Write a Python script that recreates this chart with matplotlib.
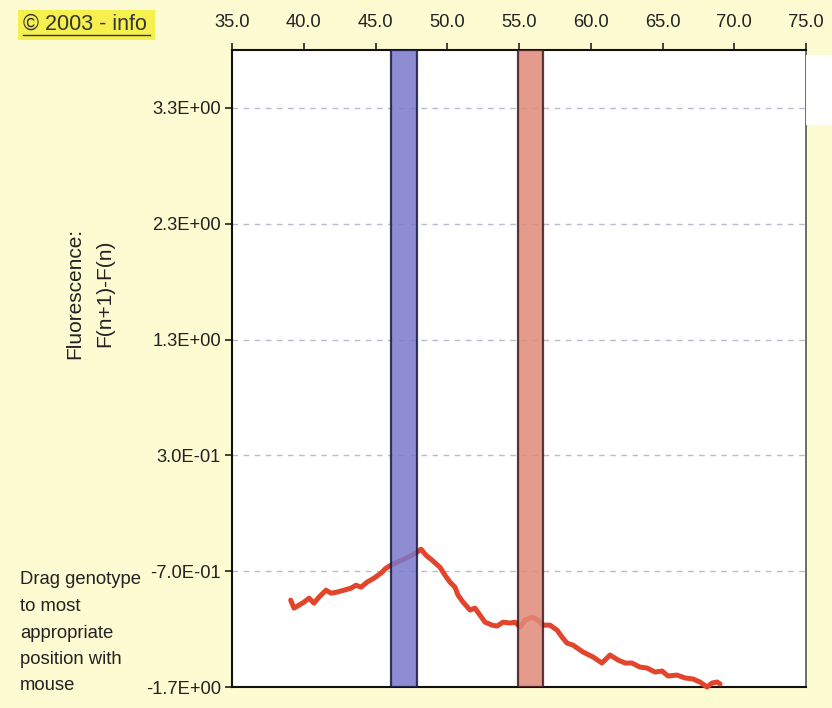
import matplotlib
matplotlib.use("Agg")
import matplotlib.pyplot as plt
from matplotlib.lines import Line2D
from matplotlib.patches import Rectangle

plt.rcParams['font.family'] = ['Liberation Sans', 'DejaVu Sans']

# Data
temps = [39.09, 39.32, 39.67, 40.02, 40.37, 40.71, 41.06, 41.55, 41.90, 42.32,
         42.80, 43.29, 43.64, 43.99, 44.41, 44.90, 45.38, 45.73, 46.08, 46.64,
         47.13, 47.54, 47.89, 48.17, 48.52, 48.94, 49.49, 49.84, 50.19, 50.54,
         50.75, 51.10, 51.59, 51.93, 52.28, 52.63, 53.12, 53.47, 53.89, 54.37,
         54.72, 55.07, 55.42, 55.91, 56.32, 56.67, 57.16, 57.65, 58.00, 58.34,
         58.76, 59.46, 60.16, 60.78, 61.34, 61.90, 62.39, 62.87, 63.43, 63.92,
         64.48, 64.97, 65.38, 66.01, 66.57, 67.13, 67.61, 68.10, 68.45, 68.80,
         69.01]
fluor = [-0.950, -1.019, -0.993, -0.967, -0.933, -0.976, -0.924, -0.864, -0.890, -0.881,
         -0.864, -0.847, -0.821, -0.838, -0.795, -0.760, -0.717, -0.674, -0.648, -0.614,
         -0.588, -0.562, -0.536, -0.510, -0.562, -0.605, -0.666, -0.734, -0.795, -0.838,
         -0.907, -0.967, -1.036, -1.019, -1.079, -1.140, -1.166, -1.174, -1.140, -1.148,
         -1.140, -1.183, -1.122, -1.097, -1.122, -1.166, -1.166, -1.209, -1.269, -1.321,
         -1.338, -1.398, -1.441, -1.493, -1.424, -1.467, -1.493, -1.493, -1.528, -1.536,
         -1.571, -1.562, -1.605, -1.597, -1.622, -1.631, -1.657, -1.700, -1.666, -1.657,
         -1.674]
blue_band = (46.1, 47.9)
red_band = (54.9, 56.7)
xticks = [35, 40, 45, 50, 55, 60, 65, 70, 75]
xtick_labels = ["35.0", "40.0", "45.0", "50.0", "55.0", "60.0", "65.0", "70.0", "75.0"]
yticks = [3.3, 2.3, 1.3, 0.3, -0.7, -1.7]
ytick_labels = ["3.3E+00", "2.3E+00", "1.3E+00", "3.0E-01", "-7.0E-01", "-1.7E+00"]

bg = '#fdfbd2'
fig = plt.figure(figsize=(8.32, 7.08), dpi=100, facecolor=bg)
W, H = 832, 708
ax = fig.add_axes([232 / W, 1 - 687 / H, (806 - 232) / W, (687 - 50) / H])
ax.set_facecolor('white')

ax.plot(temps, fluor, color='#e2452c', lw=3.6, zorder=3, solid_capstyle='round',
        solid_joinstyle='round', clip_on=False)

ax.axvspan(*blue_band, facecolor='#7a78cc', edgecolor='#1a1a40', lw=1.6, alpha=0.85, zorder=4)
ax.axvspan(*red_band, facecolor='#e08a78', edgecolor='#3a1a20', lw=1.6, alpha=0.85, zorder=4)

ax.set_xlim(35, 75)
ax.set_ylim(-1.7, 3.8)
ax.set_xticks(xticks)
ax.set_xticklabels(xtick_labels)
ax.set_yticks(yticks)
ax.set_yticklabels(ytick_labels)
ax.xaxis.tick_top()
ax.tick_params(axis='x', direction='out', length=5, width=1.2, pad=9, labelsize=13.2, colors='#222222')
ax.tick_params(axis='y', direction='out', length=5, width=1.2, pad=3, labelsize=13.2, colors='#222222')
ax.yaxis.grid(True, color='#b8bccc', linestyle=(0, (4, 4)), lw=1.0)
ax.set_axisbelow(True)
for s in ['top', 'left', 'bottom']:
    ax.spines[s].set_color('#111111')
    ax.spines[s].set_linewidth(1.5)
ax.spines['right'].set_color('#555555')
ax.spines['right'].set_linewidth(1.2)

# white strip on right edge (scan artifact)
fig.patches.append(Rectangle((806 / W, 1 - 125 / H), 26 / W, 70 / H, transform=fig.transFigure,
                             facecolor='white', edgecolor='none', zorder=0))

# y label
fig.text(75 / W, 1 - 293 / H, "Fluorescence:", rotation=90, ha='center', va='center',
         fontsize=15, color='#222222')
fig.text(105 / W, 1 - 293 / H, "F(n+1)-F(n)", rotation=90, ha='center', va='center',
         fontsize=15, color='#222222')

# copyright label with highlight
fig.patches.append(Rectangle((18 / W, 1 - 40 / H), 137 / W, 30 / H, transform=fig.transFigure,
                             facecolor='#f6f04e', edgecolor='none', zorder=1))
fig.text(23 / W, 1 - 24 / H, "© 2003 - info", ha='left', va='center', fontsize=15.5,
         color='#333333', zorder=2)
fig.add_artist(Line2D([23 / W, 150 / W], [1 - 35 / H, 1 - 35 / H], transform=fig.transFigure,
                      color='#333333', lw=1.0))

# instruction text
lines = ["Drag genotype", "to most", "appropriate", "position with", "mouse"]
for i, t in enumerate(lines):
    fig.text(20 / W, 1 - (580 + i * 26.5) / H, t, ha='left', va='center', fontsize=13.3,
             color='#222222')

fig.savefig('out.png', dpi=100, facecolor=bg)
